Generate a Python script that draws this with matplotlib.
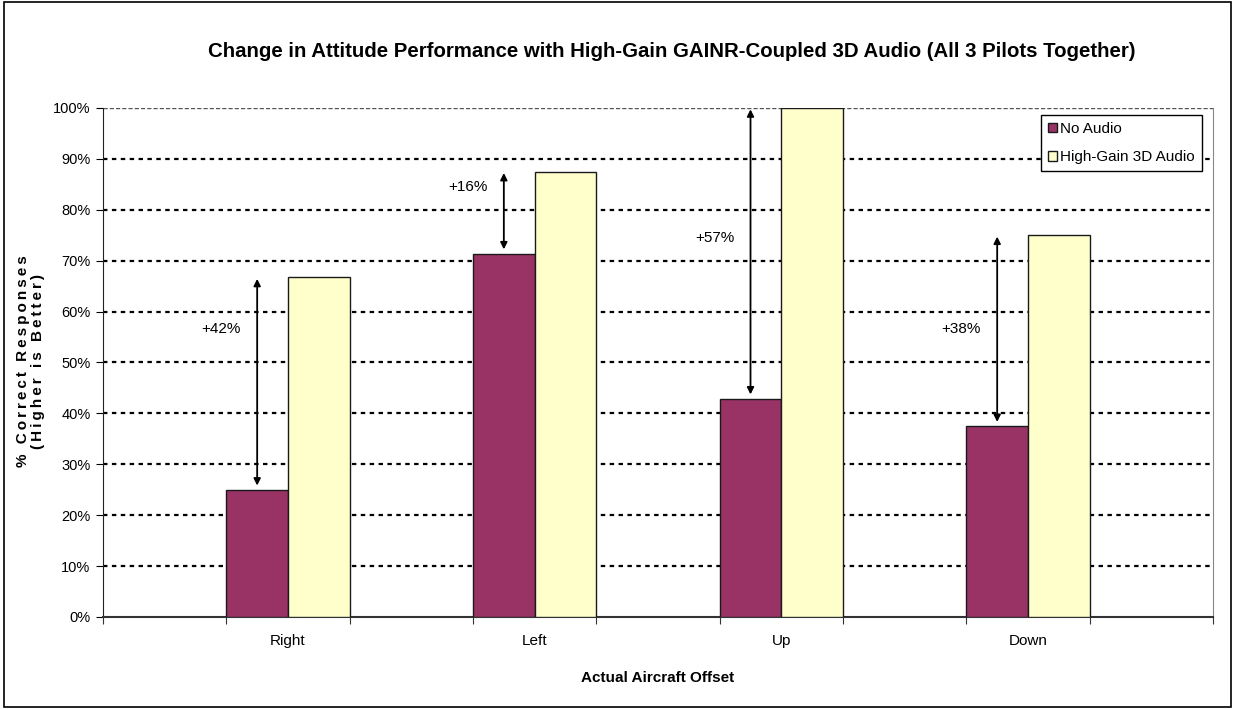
import matplotlib
matplotlib.use('Agg')
import matplotlib.pyplot as plt
import numpy as np
from matplotlib.patches import Rectangle

# data
categories = ['Right', 'Left', 'Up', 'Down']
no_audio = [25.0, 71.4, 42.9, 37.5]
high_gain = [66.7, 87.5, 100.0, 75.0]
gain_labels = ['+42%', '+16%', '+57%', '+38%']
gain_label_y = [56.6, 84.4, 74.4, 56.6]

plt.rcParams['font.family'] = ['Liberation Sans', 'DejaVu Sans']

fig = plt.figure(figsize=(12.35, 7.09), dpi=100)
ax = fig.add_axes([0.0834, 0.1298, 0.8988, 0.7179])

x = np.arange(len(categories))
w = 0.25
ax.bar(x - w / 2, no_audio, w, color='#993366', edgecolor='#1a1a1a', linewidth=1,
       label='No Audio', zorder=3)
ax.bar(x + w / 2, high_gain, w, color='#FFFFCC', edgecolor='#1a1a1a', linewidth=1,
       label='High-Gain 3D Audio', zorder=3)

# difference arrows and labels
for i in range(len(categories)):
    ax.annotate('', xy=(x[i] - w / 2, high_gain[i]), xytext=(x[i] - w / 2, no_audio[i]),
                arrowprops=dict(arrowstyle='<|-|>', color='black', lw=1.3,
                                mutation_scale=10, shrinkA=3, shrinkB=1), zorder=4)
    ax.text(x[i] - 0.27, gain_label_y[i], gain_labels[i], ha='center', va='center',
            fontsize=11, zorder=4)

ax.set_xlim(-0.75, 3.745)
ax.set_ylim(0, 100)
ax.set_yticks(np.arange(0, 101, 10))
ax.set_yticklabels([f'{v}%' for v in range(0, 101, 10)], fontsize=10.5)
ax.set_xticks(np.arange(-0.75, 3.76, 0.5), minor=False)
ax.set_xticklabels([''] * 10)
ax.set_xticks(x, minor=True)
ax.set_xticklabels(categories, minor=True, fontsize=11)
ax.tick_params(axis='x', which='minor', length=0, pad=12)
ax.tick_params(axis='x', which='major', length=5, direction='out', color='#333333')
ax.tick_params(axis='y', length=5, direction='out', pad=4)

# gridlines
for v in range(10, 100, 10):
    ax.axhline(v, color='black', linestyle=(0, (2, 2)), linewidth=1.6, zorder=1)
ax.axhline(100, color='#555555', linestyle=(0, (3, 1.5)), linewidth=1, zorder=1)

ax.spines['top'].set_visible(False)
ax.spines['right'].set_color('#888888')
ax.spines['left'].set_color('#222222')
ax.spines['bottom'].set_color('#333333')
ax.spines['bottom'].set_linewidth(1.5)

ax.set_xlabel('Actual Aircraft Offset', fontsize=11, fontweight='bold', labelpad=17)

# y label is letter-spaced in the original
def spaced(s):
    return '\u2009'.join(s)

fig.text(0.0245, 0.49, spaced('% Correct Responses') + '\n' + spaced('(Higher is Better)'),
         rotation=90, ha='center', va='center', fontsize=11, fontweight='bold',
         linespacing=1.1)

fig.text(0.5437, 0.928, 'Change in Attitude Performance with High-Gain GAINR-Coupled 3D Audio (All 3 Pilots Together)',
         ha='center', va='center', fontsize=14.7, fontweight='bold')

leg = ax.legend(loc='upper right', bbox_to_anchor=(0.990, 0.986), fontsize=11,
                frameon=True, fancybox=False, edgecolor='black', framealpha=1,
                handlelength=0.55, handleheight=0.55, handletextpad=0.25,
                borderpad=0.45, labelspacing=0.95, borderaxespad=0)
leg.get_frame().set_linewidth(1)

# outer chart border
fig.patches.append(Rectangle((0.003, 0.003), 0.994, 0.994, transform=fig.transFigure,
                             fill=False, edgecolor='black', linewidth=1.2))

fig.savefig('out.png', dpi=100)
